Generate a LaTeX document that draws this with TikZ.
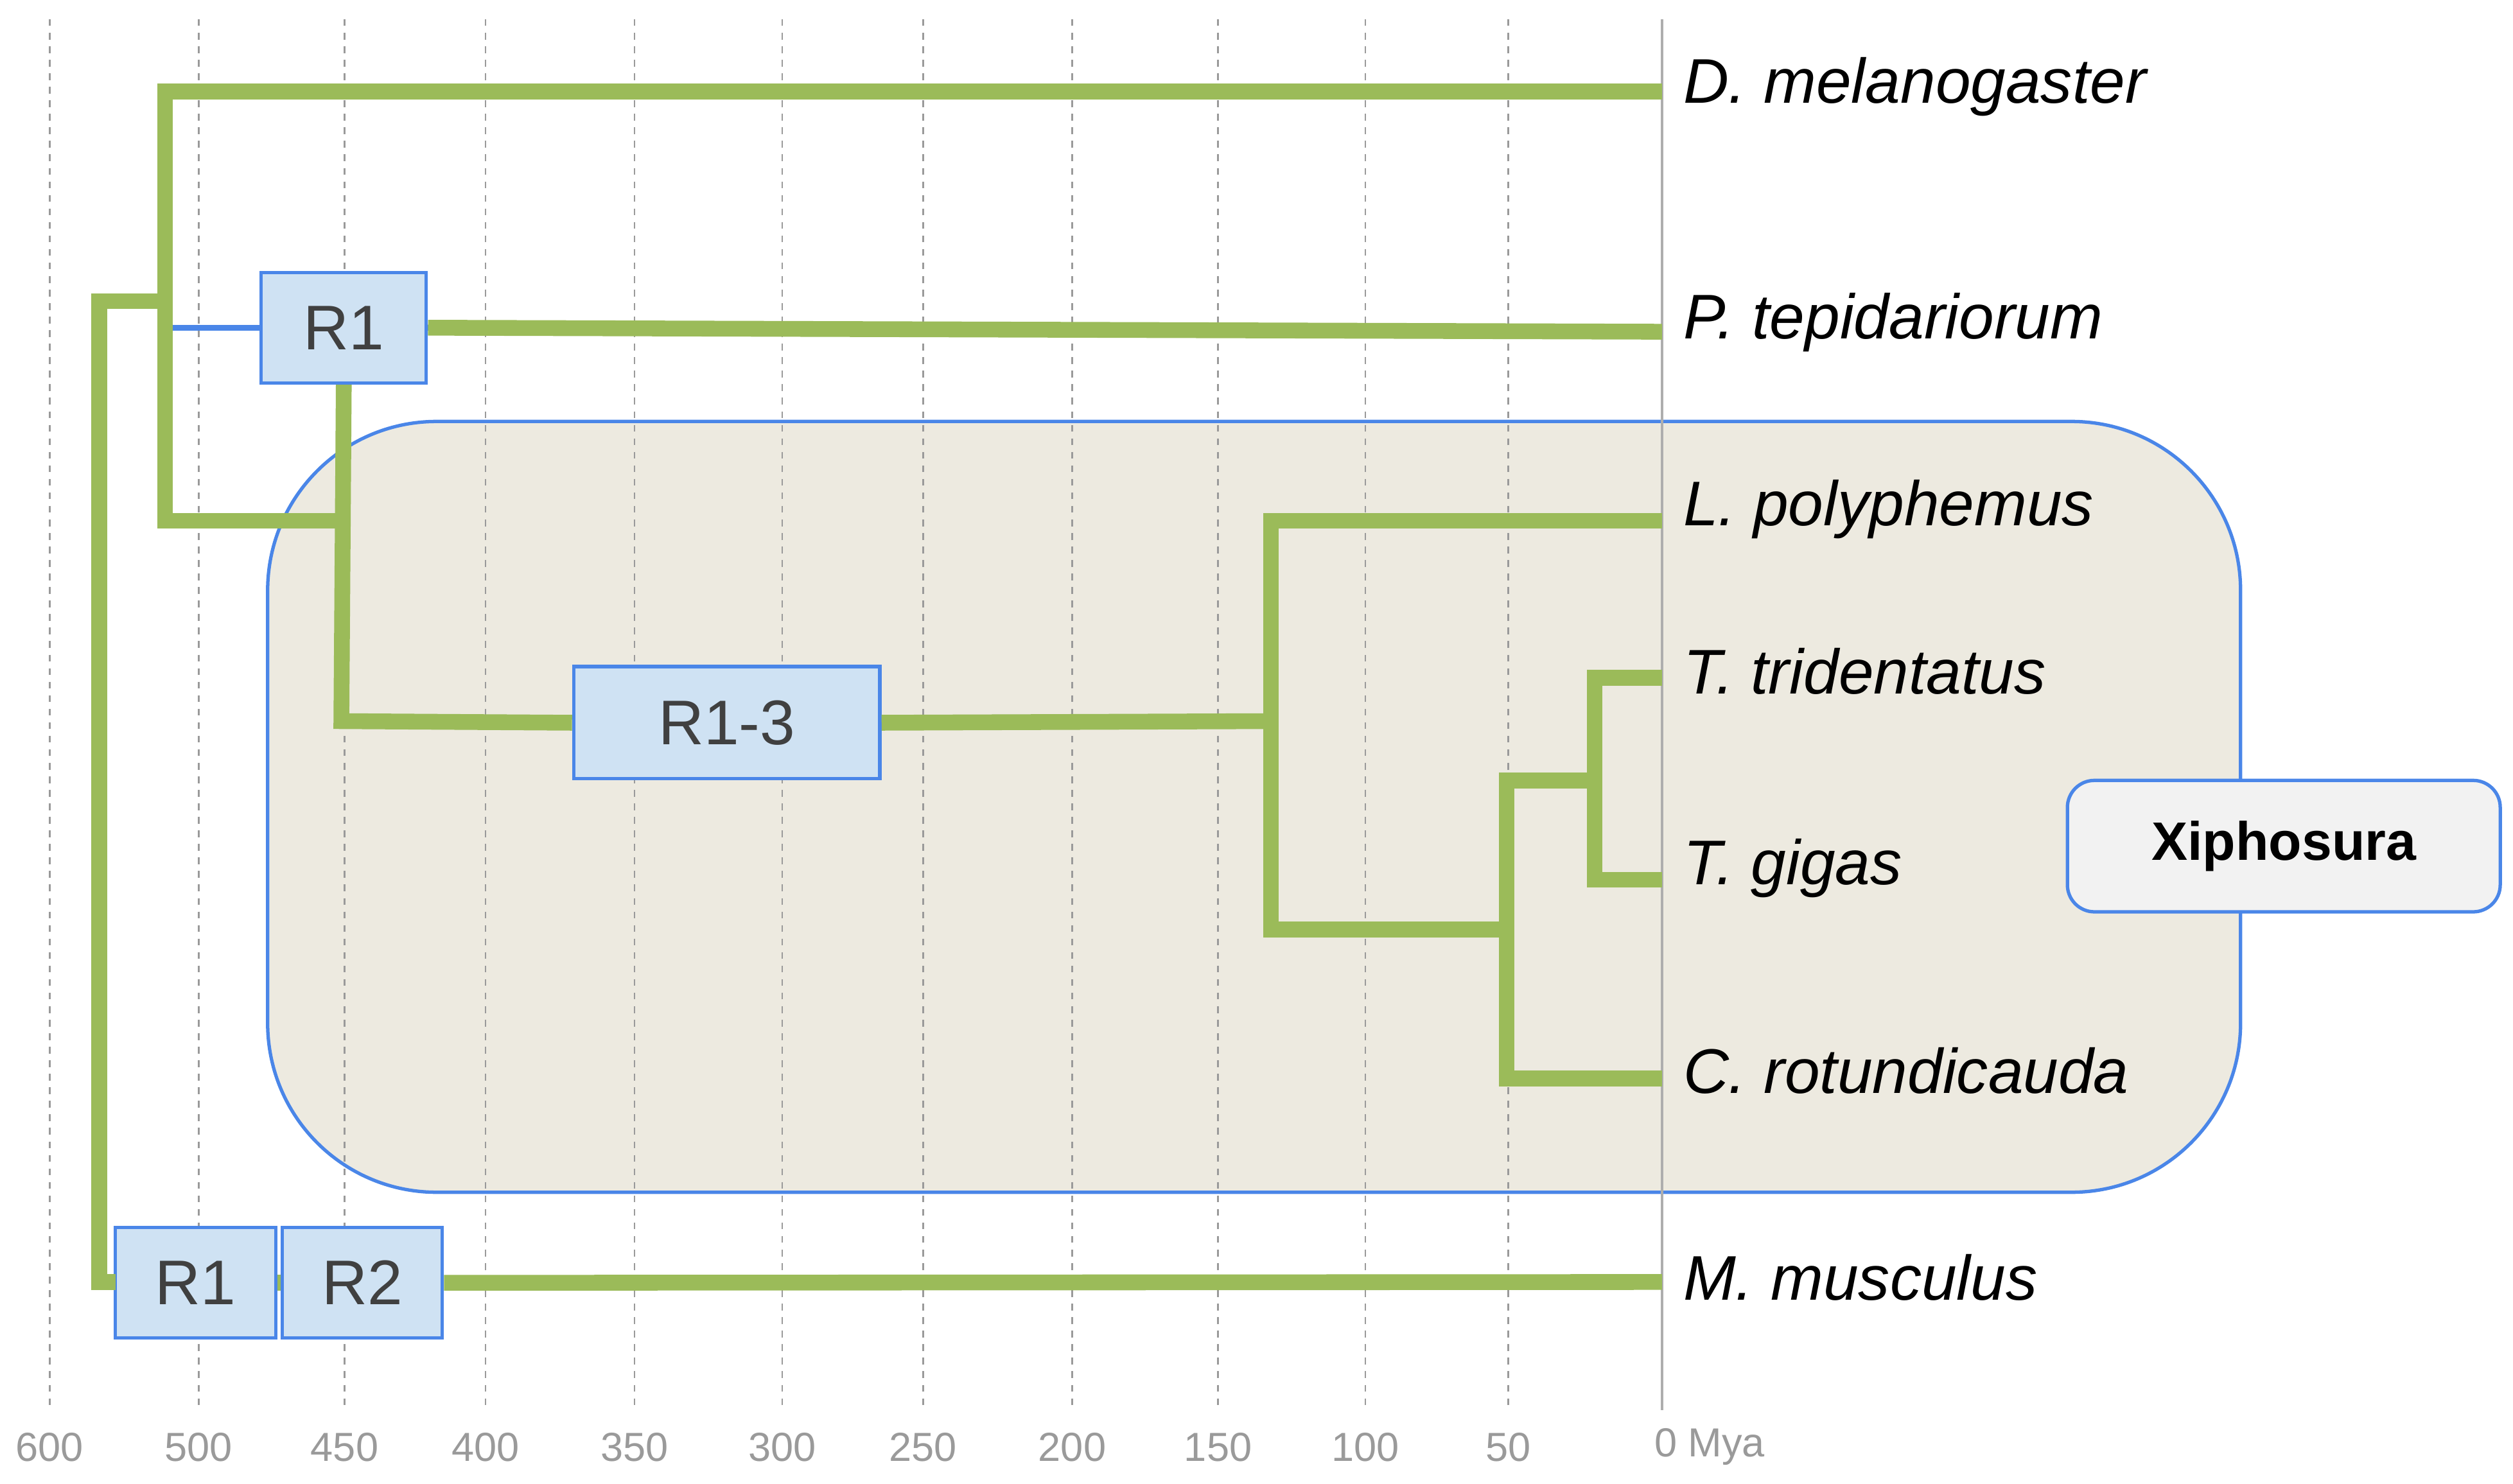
\documentclass[tikz,border=0pt]{standalone}
\usepackage{fontspec}
\setmainfont{Liberation Sans}
\definecolor{grn}{HTML}{9BBB59}
\definecolor{bbord}{HTML}{4A86E8}
\definecolor{bfill}{HTML}{CFE2F3}
\definecolor{beige}{HTML}{EDEAE0}
\definecolor{axg}{HTML}{9A9A9A}
\begin{document}
\begin{tikzpicture}[x=0.025cm,y=-0.025cm,
  br/.style={line width=7pt,grn},
  box/.style={draw=bbord,fill=bfill,line width=1.5pt,text=black!75,font=\fontsize{28}{30}\selectfont,inner sep=0pt},
  sp/.style={anchor=west,font=\fontsize{28}{30}\selectfont\itshape,inner sep=0pt},
  ax/.style={text=axg,font=\fontsize{18}{20}\selectfont,inner sep=0pt}]
\useasboundingbox (0,0) rectangle (1568,926);
\draw[draw=bbord,fill=beige,line width=1.5pt,rounded corners=75] (167,263) rectangle (1398,744);
\foreach \x/\l in {31/600,124/500,215/450,303/400,396/350,488/300,576/250,669/200,760/150,852/100,941/50}{
  \draw[axg,dashed,line width=0.7pt] (\x,12) -- (\x,880);
  \node[ax] (t\l) at (\x,903) {\l};}
\draw[axg!80,line width=1.2pt] (1037,12) -- (1037,880);
\node[ax,anchor=west] (t0) at (1032,903) {0 Mya};
% boxes
\node[box,minimum width=103\pgflinewidth] (r1a) at (214.5,204.5) {};
\node[box] (r1a) at (214.5,204.5) [minimum width=2.575cm,minimum height=1.725cm] {R1};
\node[box] (r13) at (453.5,451) [minimum width=4.775cm,minimum height=1.75cm] {R1-3};
\node[box] (r1b) at (122,800.5) [minimum width=2.5cm,minimum height=1.725cm] {R1};
\node[box] (r2) at (226,800.5) [minimum width=2.5cm,minimum height=1.725cm] {R2};
\node[draw=bbord,fill=black!5,line width=1.5pt,rounded corners=12,minimum width=6.75cm,minimum height=2.05cm,font=\fontsize{24}{26}\selectfont\bfseries] (xi) at (1425,528) {Xiphosura};
% species
\node[sp] (dm) at (1050,54) {D. melanogaster};
\node[sp] (pt) at (1050,201) {P. tepidariorum};
\node[sp] (lp) at (1050,318) {L. polyphemus};
\node[sp] (tt) at (1050,419) {T. tridentatus};
\node[sp] (tg) at (1050,542) {T. gigas};
\node[sp] (cr) at (1050,668) {C. rotundicauda};
\node[sp] (mm) at (1050,797) {M. musculus};
% tree
\coordinate (e) at (1037,0);
\draw[br] (72,800) -| (62,188) -- (103,188);
\draw[br] (1037,57) -| (103,325) -- (213,325);
\draw[br] (r1a.east) -- (1037,207);
\draw[br] (r1a.south) -- (213,450) -- (r13.west);
\draw[br] (r13.east) -- (793,450);
\draw[br] (1037,325) -| (793,580) -- (940,580);
\draw[br] (995,487) -| (940,673) -- (1037,673);
\draw[br] (1037,423) -| (995,549) -- (1037,549);
\draw[br] (r2.east) -- (1037,800);
\draw[br] (r1b.east) -- (r2.west);
\end{tikzpicture}
\end{document}
